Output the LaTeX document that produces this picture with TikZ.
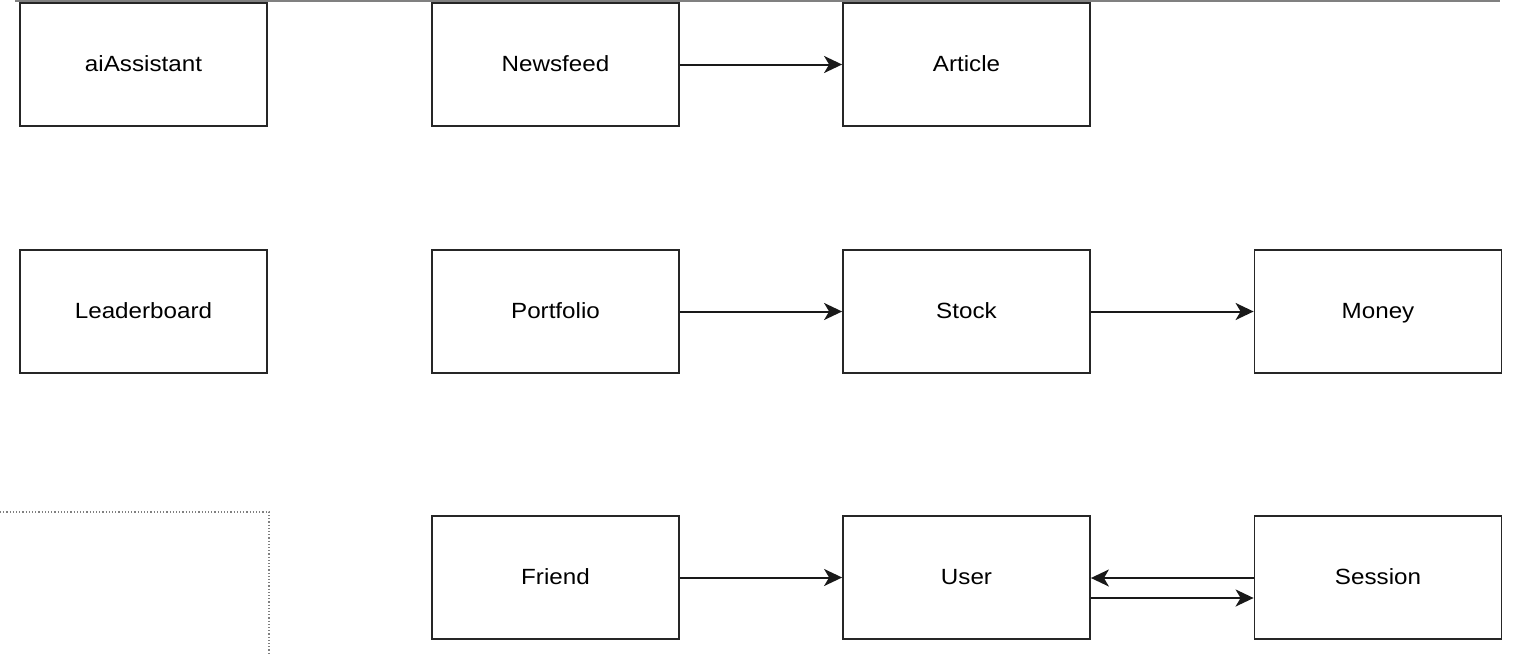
\documentclass[tikz,border=0pt]{standalone}
\usepackage{fontspec}
\setmainfont{Liberation Sans}[FakeStretch=1.1]
\usetikzlibrary{arrows.meta}
\begin{document}
\begin{tikzpicture}[x=1pt,y=-1pt,
  ent/.style={draw=black!85,line width=1.8pt,minimum width=247pt,minimum height=123pt,inner sep=0pt,text height=13pt,text depth=0pt,font=\fontsize{22}{26}\selectfont,text=black},
  conn/.style={draw=black!90,line width=2pt,-{Stealth[length=18pt,width=17pt,inset=5pt]}}]
\useasboundingbox (0,0) rectangle (1519,656);
\draw[gray,line width=1.5pt] (15,0.75) -- (1500,0.75);
\draw[gray,line width=1.2pt,dotted] (0,512) -- (269,512) -- (269,660);
\node[ent] (ai) at (143.5,64.5) {aiAssistant};
\node[ent] (news) at (555.5,64.5) {Newsfeed};
\node[ent] (art) at (966.5,64.5) {Article};
\node[ent] (lead) at (143.5,311.5) {Leaderboard};
\node[ent] (port) at (555.5,311.5) {Portfolio};
\node[ent] (stock) at (966.5,311.5) {Stock};
\node[ent] (money) at (1378,311.5) {Money};
\node[ent] (friend) at (555.5,577.5) {Friend};
\node[ent] (user) at (966.5,577.5) {User};
\node[ent] (sess) at (1378,577.5) {Session};
\draw[conn] (news.east) -- (art.west);
\draw[conn] (port.east) -- (stock.west);
\draw[conn] (stock.east) -- (money.west);
\draw[conn] (friend.east) -- (user.west);
\draw[conn] ([yshift=-0.5pt]sess.west) -- ([yshift=-0.5pt]user.east);
\draw[conn] ([yshift=-20.5pt]user.east) -- ([yshift=-20.5pt]sess.west);
\end{tikzpicture}
\end{document}
